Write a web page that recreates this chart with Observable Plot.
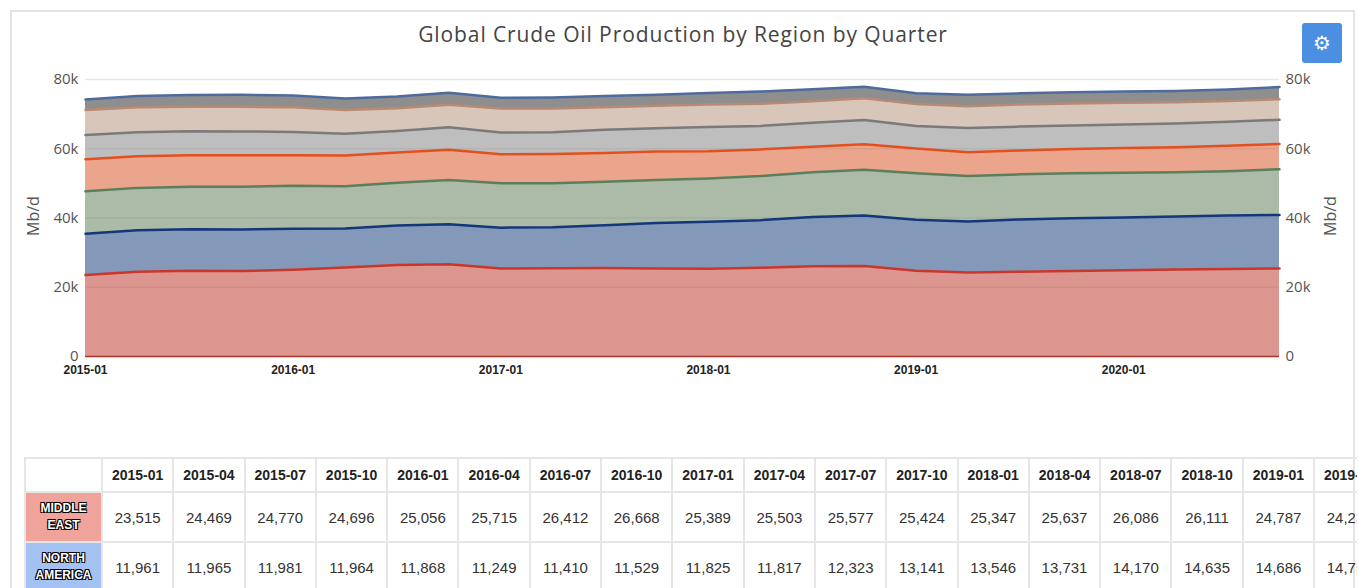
<!DOCTYPE html>
<html>
<head>
<meta charset="utf-8">
<script src="https://cdn.jsdelivr.net/npm/d3@7"></script>
<script src="https://cdn.jsdelivr.net/npm/@observablehq/plot@0.6"></script>
<style>
  html, body { margin: 0; padding: 0; background: #fff; overflow: hidden; width: 1359px; height: 588px; }
  #frame { position: absolute; left: 10px; top: 10px; width: 1345px; height: 600px; border: 2px solid #e3e3e3; box-sizing: border-box; }
  #title { position: absolute; left: 0; width: 1366px; top: 20px; text-align: center; font-family: "Open Sans", sans-serif; font-size: 21px; letter-spacing: 0.9px; color: #444; }
  #gear { position: absolute; left: 1302px; top: 23px; width: 40px; height: 40px; background: #4a8fe2; border-radius: 3px; color: #fff; font-family: "DejaVu Sans", sans-serif; font-size: 20px; line-height: 40px; text-align: center; }
  .ylab { position: absolute; top: 205px; font-family: "Open Sans", sans-serif; font-size: 16px; color: #555; transform: rotate(-90deg); transform-origin: center; width: 50px; text-align: center; }
  #chart { position: absolute; left: 0; top: 0; }
  #tablewrap { position: absolute; left: 24px; top: 457px; width: 1333px; height: 140px; overflow: hidden; }
  table { border-collapse: collapse; table-layout: fixed; font-family: "Liberation Sans", Arial, sans-serif; }
  th, td { border: 2px solid #e6e6e6; text-align: center; padding: 0; box-sizing: border-box; white-space: nowrap; }
  thead th { height: 34px; font-size: 14px; font-weight: bold; color: #222; }
  tbody td { height: 50px; font-size: 15px; color: #333; }
  tbody th { font-size: 12px; font-weight: bold; color: #fff; line-height: 17px; text-transform: uppercase; white-space: normal;
    text-shadow: -1px -1px 0 #000, 1px -1px 0 #000, -1px 1px 0 #000, 1px 1px 0 #000; }
</style>
</head>
<body>
<div id="frame"></div>
<div id="title">Global Crude Oil Production by Region by Quarter</div>
<div id="gear">&#9881;</div>
<div id="chart"></div>
<div class="ylab" style="left: 8px;">Mb/d</div>
<div class="ylab" style="left: 1305px;">Mb/d</div>
<div id="tablewrap"></div>
<script>
// ---- data ----
const quarters = ["2015-01","2015-04","2015-07","2015-10","2016-01","2016-04","2016-07","2016-10",
  "2017-01","2017-04","2017-07","2017-10","2018-01","2018-04","2018-07","2018-10",
  "2019-01","2019-04","2019-07","2019-10","2020-01","2020-04","2020-07","2020-10"];
const regions = ["Middle East","North America","Europe & Eurasia","Africa","Latin America","Asia Pacific","Other"];
const middleEast = [23515,24469,24770,24696,25056,25715,26412,26668,25389,25503,25577,25424,
  25347,25637,26086,26111,24787,24236,24500,24700,24900,25100,25300,25450];
const northAmerica = [11961,11965,11981,11964,11868,11249,11410,11529,11825,11817,12323,13141,
  13546,13731,14170,14635,14686,14750,15100,15250,15250,15300,15400,15450];
const eurasia = [12224,12266,12249,12340,12376,12236,12378,12803,12836,12730,12550,12435,
  12507,12732,12944,13154,13427,13114,13000,12950,12950,12800,12800,13200];
const africa = [9300,9150,9100,9100,8800,8850,8700,8700,8350,8400,8350,8200,
  7900,7700,7400,7400,7200,6900,6900,7000,7100,7200,7350,7300];
const latinAmerica = [7000,6900,6950,6900,6750,6250,6200,6500,6300,6350,6700,6700,
  7000,6800,6900,7000,6500,7000,6900,6800,6800,6900,6950,6950];
const asiaPacific = [7200,7200,7050,7100,7150,6900,6600,6500,6900,6800,6500,6500,
  6500,6400,6200,6300,6300,6300,6400,6400,6300,6150,6000,5950];
const other = [3000,3300,3400,3500,3400,3300,3400,3500,3100,3200,3200,3200,
  3300,3500,3500,3300,3100,3300,3200,3200,3200,3250,3300,3500];
const yTicks = [0, 20000, 40000, 60000, 80000];
const xTickIndex = [0, 4, 8, 12, 16, 20];
const fills = ["#dc968f","#8499b9","#acbaa8","#eba58c","#bebebe","#d8c6bb","#8e8e8e"];
const strokes = ["#c9372c","#12377a","#5b7f5b","#e2501f","#7a7a7a","#b88a72","#4f6b9d"];
const tableRows = ["Middle East","North America"];
const tableHeadColors = ["#f0a39a","#a3c1f2"];
const tableColumnsShown = 18; // columns visible in the (scrolled) table

// ---- build ----
const series = [middleEast, northAmerica, eurasia, africa, latinAmerica, asiaPacific, other];
const rows = regions.flatMap((r, k) => series[k].map((v, i) => ({region: r, k, i, value: v})));
const fillOf = d => fills[d.k];
const strokeOf = d => strokes[d.k];
const kfmt = d => d === 0 ? "0" : (d / 1000) + "k";

const plot = Plot.plot({
  width: 1359,
  height: 385,
  marginLeft: 85,
  marginRight: 80,
  marginTop: 79,
  marginBottom: 29,
  style: {fontFamily: "'Open Sans', sans-serif", background: "transparent"},
  x: {domain: [0, quarters.length - 1]},
  y: {domain: [0, 80000]},
  color: {type: "identity"},
  marks: [
    Plot.ruleY(yTicks, {stroke: "#e8e8e8", strokeWidth: 1.5}),
    Plot.areaY(rows, Plot.stackY({x: "i", y: "value", z: "region", fill: fillOf})),
    Plot.ruleY(yTicks.slice(1, 4), {stroke: "#000", strokeOpacity: 0.05, strokeWidth: 1.5}),
    Plot.lineY(rows, Plot.stackY2({x: "i", y: "value", z: "region", stroke: strokeOf, strokeWidth: 2.5})),
    Plot.ruleY([0], {stroke: "#a8372c", strokeWidth: 1.5}),
    Plot.axisY({ticks: yTicks, tickFormat: kfmt, tickSize: 0, tickPadding: 7, anchor: "left", label: null, fontSize: 15, fill: "#555"}),
    Plot.axisY({ticks: yTicks, tickFormat: kfmt, tickSize: 0, tickPadding: 6, anchor: "right", label: null, fontSize: 15, fill: "#555"}),
    Plot.axisX({ticks: xTickIndex, tickFormat: i => quarters[i], tickSize: 0, tickPadding: 9, label: null,
      fontSize: 12, fontWeight: "bold", fill: "#222", fontFamily: "'Liberation Sans', Arial, sans-serif"})
  ]
});
document.getElementById("chart").appendChild(plot);

// ---- table ----
const cols = quarters.slice(0, tableColumnsShown);
let html = "<table><colgroup><col style='width:77px'>" +
  cols.map(() => "<col style='width:71.3px'>").join("") + "</colgroup><thead><tr><th></th>" +
  cols.map(q => `<th>${q}</th>`).join("") + "</tr></thead><tbody>";
const fmt = d3.format(",");
tableRows.forEach((name, r) => {
  const words = name.split(" ");
  html += `<tr><th style="background:${tableHeadColors[r]}">${words.join("<br>")}</th>` +
    series[r].slice(0, tableColumnsShown).map(v => `<td>${fmt(v)}</td>`).join("") + "</tr>";
});
html += "</tbody></table>";
const tw = document.getElementById("tablewrap");
tw.innerHTML = html;
tw.querySelector("table").style.width = (77 + 71.3 * cols.length) + "px";
</script>
</body>
</html>
